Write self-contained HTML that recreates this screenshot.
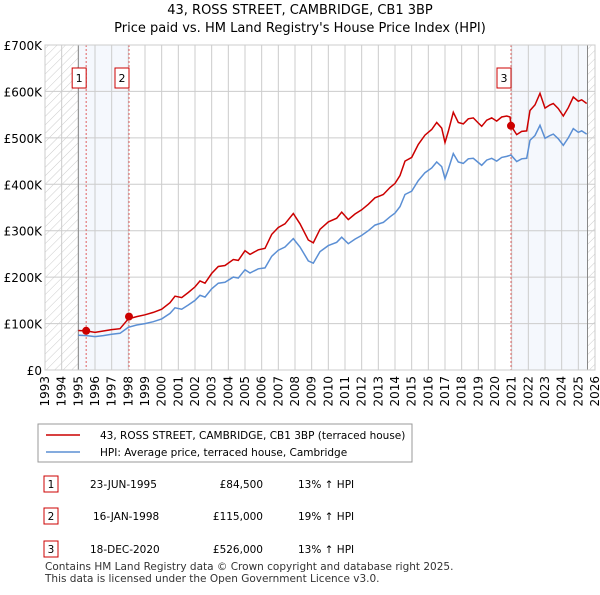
<!DOCTYPE html>
<html><head><meta charset="utf-8"><style>
body{margin:0;background:#fff;font-family:"Liberation Sans","DejaVu Sans",sans-serif;}
svg text{font-family:"DejaVu Sans","Liberation Sans",sans-serif;}
</style></head><body>
<svg id="c" width="600" height="590" xmlns="http://www.w3.org/2000/svg">
<defs><pattern id="h" width="6" height="6" patternUnits="userSpaceOnUse" patternTransform="rotate(45)"><line x1="0" y1="0" x2="0" y2="6" stroke="#ccc" stroke-width="1"/></pattern></defs>
<text x="300" y="14" text-anchor="middle" font-size="13">43, ROSS STREET, CAMBRIDGE, CB1 3BP</text>
<text x="300" y="32" text-anchor="middle" font-size="13">Price paid vs. HM Land Registry's House Price Index (HPI)</text>
<g id="plot"></g>
<g>
<rect x="38" y="424" width="374" height="38" fill="#fff" stroke="#999"/>
<line x1="46" y1="435" x2="80" y2="435" stroke="#cc0000" stroke-width="1.5"/>
<text x="100" y="439" font-size="10.5">43, ROSS STREET, CAMBRIDGE, CB1 3BP (terraced house)</text>
<line x1="46" y1="452" x2="80" y2="452" stroke="#5b8fd4" stroke-width="1.5"/>
<text x="100" y="456" font-size="10.5">HPI: Average price, terraced house, Cambridge</text>
</g>
<g font-size="10.5">
<rect x="44" y="476" width="14" height="16" fill="#fff" stroke="#cc0000"/><text x="51" y="488" text-anchor="middle">1</text>
<text x="90" y="488">23-JUN-1995</text><text x="263" y="488" text-anchor="end">£84,500</text><text x="298" y="488">13% ↑ HPI</text>
<rect x="44" y="508" width="14" height="16" fill="#fff" stroke="#cc0000"/><text x="51" y="520" text-anchor="middle">2</text>
<text x="93" y="520">16-JAN-1998</text><text x="263" y="520" text-anchor="end">£115,000</text><text x="298" y="520">19% ↑ HPI</text>
<rect x="44" y="541" width="14" height="16" fill="#fff" stroke="#cc0000"/><text x="51" y="553" text-anchor="middle">3</text>
<text x="90" y="553">18-DEC-2020</text><text x="263" y="553" text-anchor="end">£526,000</text><text x="298" y="553">13% ↑ HPI</text>
</g>
<text x="45" y="570" font-size="10.5" fill="#333">Contains HM Land Registry data © Crown copyright and database right 2025.</text>
<text x="45" y="582" font-size="10.5" fill="#333">This data is licensed under the Open Government Licence v3.0.</text>
</svg>
<script>
const hpiYears=[1995.0,1995.5,1996.0,1996.5,1997.0,1997.5,1998.0,1998.5,1999.0,1999.5,2000.0,2000.5,2000.8,2001.2,2001.6,2002.0,2002.3,2002.6,2003.0,2003.4,2003.8,2004.3,2004.6,2005.0,2005.3,2005.8,2006.2,2006.6,2007.0,2007.4,2007.9,2008.3,2008.8,2009.1,2009.5,2010.0,2010.5,2010.8,2011.2,2011.6,2012.0,2012.4,2012.8,2013.3,2013.7,2014.0,2014.3,2014.6,2015.0,2015.4,2015.8,2016.2,2016.5,2016.8,2017.0,2017.2,2017.5,2017.8,2018.1,2018.4,2018.7,2019.0,2019.2,2019.5,2019.8,2020.1,2020.4,2020.7,2020.96,2021.3,2021.6,2021.9,2022.1,2022.4,2022.7,2023.0,2023.3,2023.5,2023.8,2024.1,2024.4,2024.7,2025.0,2025.2,2025.5];
const hpiValues=[75,74,72,74,77,79,92,97,100,104,110,122,134,131,140,150,161,157,175,187,189,200,198,216,209,218,220,245,258,265,283,265,235,230,255,268,275,286,272,282,290,300,312,318,330,338,352,378,385,408,425,435,448,438,412,432,466,448,445,455,456,447,441,452,456,450,458,460,463,449,455,456,495,505,527,499,505,508,498,484,500,520,512,515,508];
const priceYears=[1995.0,1995.5,1996.0,1996.5,1997.0,1997.5,1998.0,1998.5,1999.0,1999.5,2000.0,2000.5,2000.8,2001.2,2001.6,2002.0,2002.3,2002.6,2003.0,2003.4,2003.8,2004.3,2004.6,2005.0,2005.3,2005.8,2006.2,2006.6,2007.0,2007.4,2007.9,2008.3,2008.8,2009.1,2009.5,2010.0,2010.5,2010.8,2011.2,2011.6,2012.0,2012.4,2012.8,2013.3,2013.7,2014.0,2014.3,2014.6,2015.0,2015.4,2015.8,2016.2,2016.5,2016.8,2017.0,2017.2,2017.5,2017.8,2018.1,2018.4,2018.7,2019.0,2019.2,2019.5,2019.8,2020.1,2020.4,2020.7,2020.9,2020.96,2021.3,2021.6,2021.9,2022.1,2022.4,2022.7,2023.0,2023.3,2023.5,2023.8,2024.1,2024.4,2024.7,2025.0,2025.2,2025.5];
const priceValues=[85,84,81,84,87,89,110,115,119,124,131,145,159,156,167,179,192,187,208,223,225,238,236,257,249,259,262,292,307,315,337,315,280,274,303,319,327,340,324,336,345,357,371,378,393,402,419,450,458,486,506,518,533,521,490,514,555,533,530,541,543,532,525,538,543,536,545,547,545,526,507,514,515,559,571,596,564,571,574,563,547,565,588,579,582,574];
const saleYears=[1995.47,1998.04,2020.96];
const saleValues=[84.5,115,526];
const saleLabels=["1","2","3"];
const yTicks=[0,100,200,300,400,500,600,700];
const yTickLabels=["£0","£100K","£200K","£300K","£400K","£500K","£600K","£700K"];
const xTicks=[1993,1994,1995,1996,1997,1998,1999,2000,2001,2002,2003,2004,2005,2006,2007,2008,2009,2010,2011,2012,2013,2014,2015,2016,2017,2018,2019,2020,2021,2022,2023,2024,2025,2026];
const X0=45,X1=595,Y0=370,Y1=45;
const xs=y=>X0+(y-1993)/(2026-1993)*(X1-X0);
const ys=v=>Y0-v/700*(Y0-Y1);
const NS="http://www.w3.org/2000/svg";
const g=document.getElementById('plot');
function mk(t,a,p){const e=document.createElementNS(NS,t);for(const k in a)e.setAttribute(k,a[k]);(p||g).appendChild(e);return e;}
const dataEnd=2025.55;
let r=mk('rect',{x:xs(1993),y:Y1,width:xs(1995)-xs(1993),height:Y0-Y1,fill:'url(#h)'});


r=mk('rect',{x:xs(dataEnd),y:Y1,width:X1-xs(dataEnd),height:Y0-Y1,fill:'url(#h)'});


r=mk('rect',{x:xs(1995),y:Y1,width:xs(saleYears[1])-xs(1995),height:Y0-Y1,fill:'#eef3fc',opacity:0.6});


r=mk('rect',{x:xs(saleYears[2]),y:Y1,width:xs(dataEnd)-xs(saleYears[2]),height:Y0-Y1,fill:'#eef3fc',opacity:0.6});


xTicks.forEach(t=>{const l=mk('line',{x1:xs(t),x2:xs(t),y1:Y1,y2:Y0,stroke:'#ccc'});


const tx=mk('text',{x:0,y:0,'font-size':12,'text-anchor':'end',transform:`translate(${xs(t)+4},${Y0+6}) rotate(-90)`});tx.textContent=t;

});
yTicks.forEach((t,i)=>{const l=mk('line',{x1:X0,x2:X1,y1:ys(t),y2:ys(t),stroke:'#ccc'});


const tx=mk('text',{x:X0-3,y:ys(t)+5,'font-size':12,'text-anchor':'end'});tx.textContent=yTickLabels[i];

});
let l=mk('line',{x1:xs(1995),x2:xs(1995),y1:Y1,y2:Y0,stroke:'#888'});


l=mk('line',{x1:xs(dataEnd),x2:xs(dataEnd),y1:Y1,y2:Y0,stroke:'#888'});


saleYears.forEach((s,i)=>{const d=mk('line',{x1:xs(s),x2:xs(s),y1:Y1,y2:Y0,stroke:'#e06060','stroke-dasharray':'2,2'});

});
const pth=(xa,va)=>xa.map((x,i)=>(i?'L':'M')+xs(x).toFixed(1)+','+ys(va[i]).toFixed(1)).join('');
const hl=mk('path',{d:pth(hpiYears,hpiValues),fill:'none',stroke:'#5b8fd4','stroke-width':1.5});


const pl=mk('path',{d:pth(priceYears,priceValues),fill:'none',stroke:'#cc0000','stroke-width':1.5});


saleYears.forEach((s,i)=>{const c=mk('circle',{cx:xs(s),cy:ys(saleValues[i]),r:4,fill:'#cc0000'});


const bx=mk('rect',{x:xs(s)-14,y:68,width:14,height:20,fill:'#fff',stroke:'#cc0000'});


const t=mk('text',{x:xs(s)-7,y:82,'font-size':11,'text-anchor':'middle'});t.textContent=saleLabels[i];

});
const fr=mk('rect',{x:X0,y:Y1,width:X1-X0,height:Y0-Y1,fill:'none',stroke:'#ccc'});


</script>
</body></html>
